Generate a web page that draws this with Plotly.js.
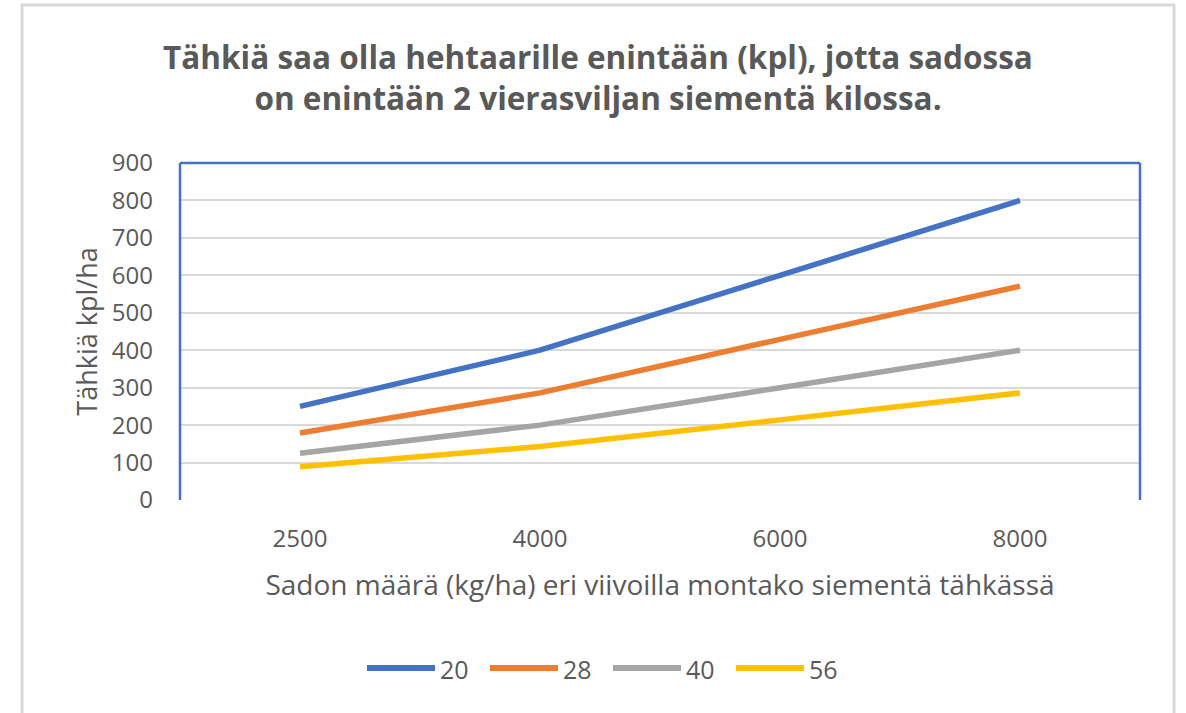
<!DOCTYPE html>
<html><head><meta charset="utf-8">
<script src="https://cdn.plot.ly/plotly-3.0.1.min.js"></script>
<style>html,body{margin:0;padding:0;background:#fff;}#chart{width:1186px;height:713px;}</style>
</head><body><div id="chart"></div>
<script>
const categories = ["2500", "4000", "6000", "8000"];
const seriesNames = ["20", "28", "40", "56"];
const s20 = [250, 400, 600, 800];
const s28 = [179, 286, 429, 571];
const s40 = [125, 200, 300, 400];
const s56 = [89, 143, 214, 286];
const yTicks = [0, 100, 200, 300, 400, 500, 600, 700, 800, 900];

const colors = ["#4472C4", "#ED7D31", "#A5A5A5", "#FFC000"];
const allSeries = [s20, s28, s40, s56];

const W = 1186, H = 713;
const L = 180, R = 46, T = 163, B = 213;
const pw = W - L - R, ph = H - T - B;
const px = x => (x - L) / pw;
const py = y => (H - B - y) / ph;

const traces = allSeries.map((vals, i) => ({
  type: "scatter", mode: "lines", name: seriesNames[i],
  x: categories, y: vals,
  line: {color: colors[i], width: 5.5, shape: "linear"},
  hoverinfo: "x+y+name", showlegend: false
}));

const txt = "#595959";
const FONT = "Open Sans, sans-serif";

// custom legend (long line swatches like the original)
const legendShapes = [], legendAnn = [];
const legX0 = 367, legStep = 123, legY = 668, swatch = 68;
seriesNames.forEach((n, i) => {
  const x0 = legX0 + i * legStep;
  legendShapes.push({type: "line", xref: "paper", yref: "paper",
    x0: px(x0), x1: px(x0 + swatch), y0: py(legY), y1: py(legY),
    line: {color: colors[i], width: 6}});
  legendAnn.push({xref: "paper", yref: "paper", x: px(x0 + swatch + 3), y: py(legY + 1),
    xanchor: "left", yanchor: "middle", text: n, showarrow: false,
    font: {family: FONT, size: 25, color: txt}});
});

const layout = {
  width: W, height: H,
  margin: {l: L, r: R, t: T, b: B, pad: 0},
  paper_bgcolor: "#ffffff", plot_bgcolor: "#ffffff",
  font: {family: FONT, color: txt, size: 24},
  title: {
    text: "<b>Tähkiä saa olla hehtaarille enintään (kpl), jotta sadossa<br>on enintään 2 vierasviljan siementä kilossa.</b>",
    font: {family: FONT, size: 31.5, color: txt, lineposition: "none"},
    x: 598 / W, xanchor: "center", xref: "container",
    y: 1 - 69 / H, yanchor: "middle"
  },
  xaxis: {
    type: "category", categoryorder: "array", categoryarray: categories,
    range: [-0.5, 3.5], showgrid: false, zeroline: false, showline: false,
    ticks: "", tickfont: {size: 24, color: txt},
    ticklabelstandoff: 22,
    title: {text: "Sadon määrä (kg/ha) eri viivoilla montako siementä tähkässä", font: {size: 28, color: txt}, standoff: 22}
  },
  yaxis: {
    range: [0, 900], tickvals: yTicks, ticktext: yTicks.map(String),
    showgrid: true, gridcolor: "#D9D9D9", gridwidth: 1.5,
    zeroline: false, showline: false, ticks: "",
    tickfont: {size: 24, color: txt}, ticklabelstandoff: 26,
    title: {text: "Tähkiä kpl/ha", font: {size: 27, color: txt}, standoff: 6}
  },
  showlegend: false,
  annotations: legendAnn,
  shapes: [
    {type: "line", xref: "paper", yref: "paper", x0: 0, x1: 0, y0: 0, y1: 1, line: {color: "#4472C4", width: 2.5}},
    {type: "line", xref: "paper", yref: "paper", x0: 0, x1: 1, y0: 1, y1: 1, line: {color: "#4472C4", width: 2.5}},
    {type: "line", xref: "paper", yref: "paper", x0: 1, x1: 1, y0: 0, y1: 1, line: {color: "#4472C4", width: 2.5}},
    {type: "rect", xref: "paper", yref: "paper", x0: px(22), x1: px(1174), y0: py(5), y1: py(760),
     line: {color: "#D9D9D9", width: 3}, fillcolor: "rgba(0,0,0,0)", layer: "below"}
  ].concat(legendShapes)
};

Plotly.newPlot("chart", traces, layout, {displayModeBar: false, responsive: false});
</script></body></html>
